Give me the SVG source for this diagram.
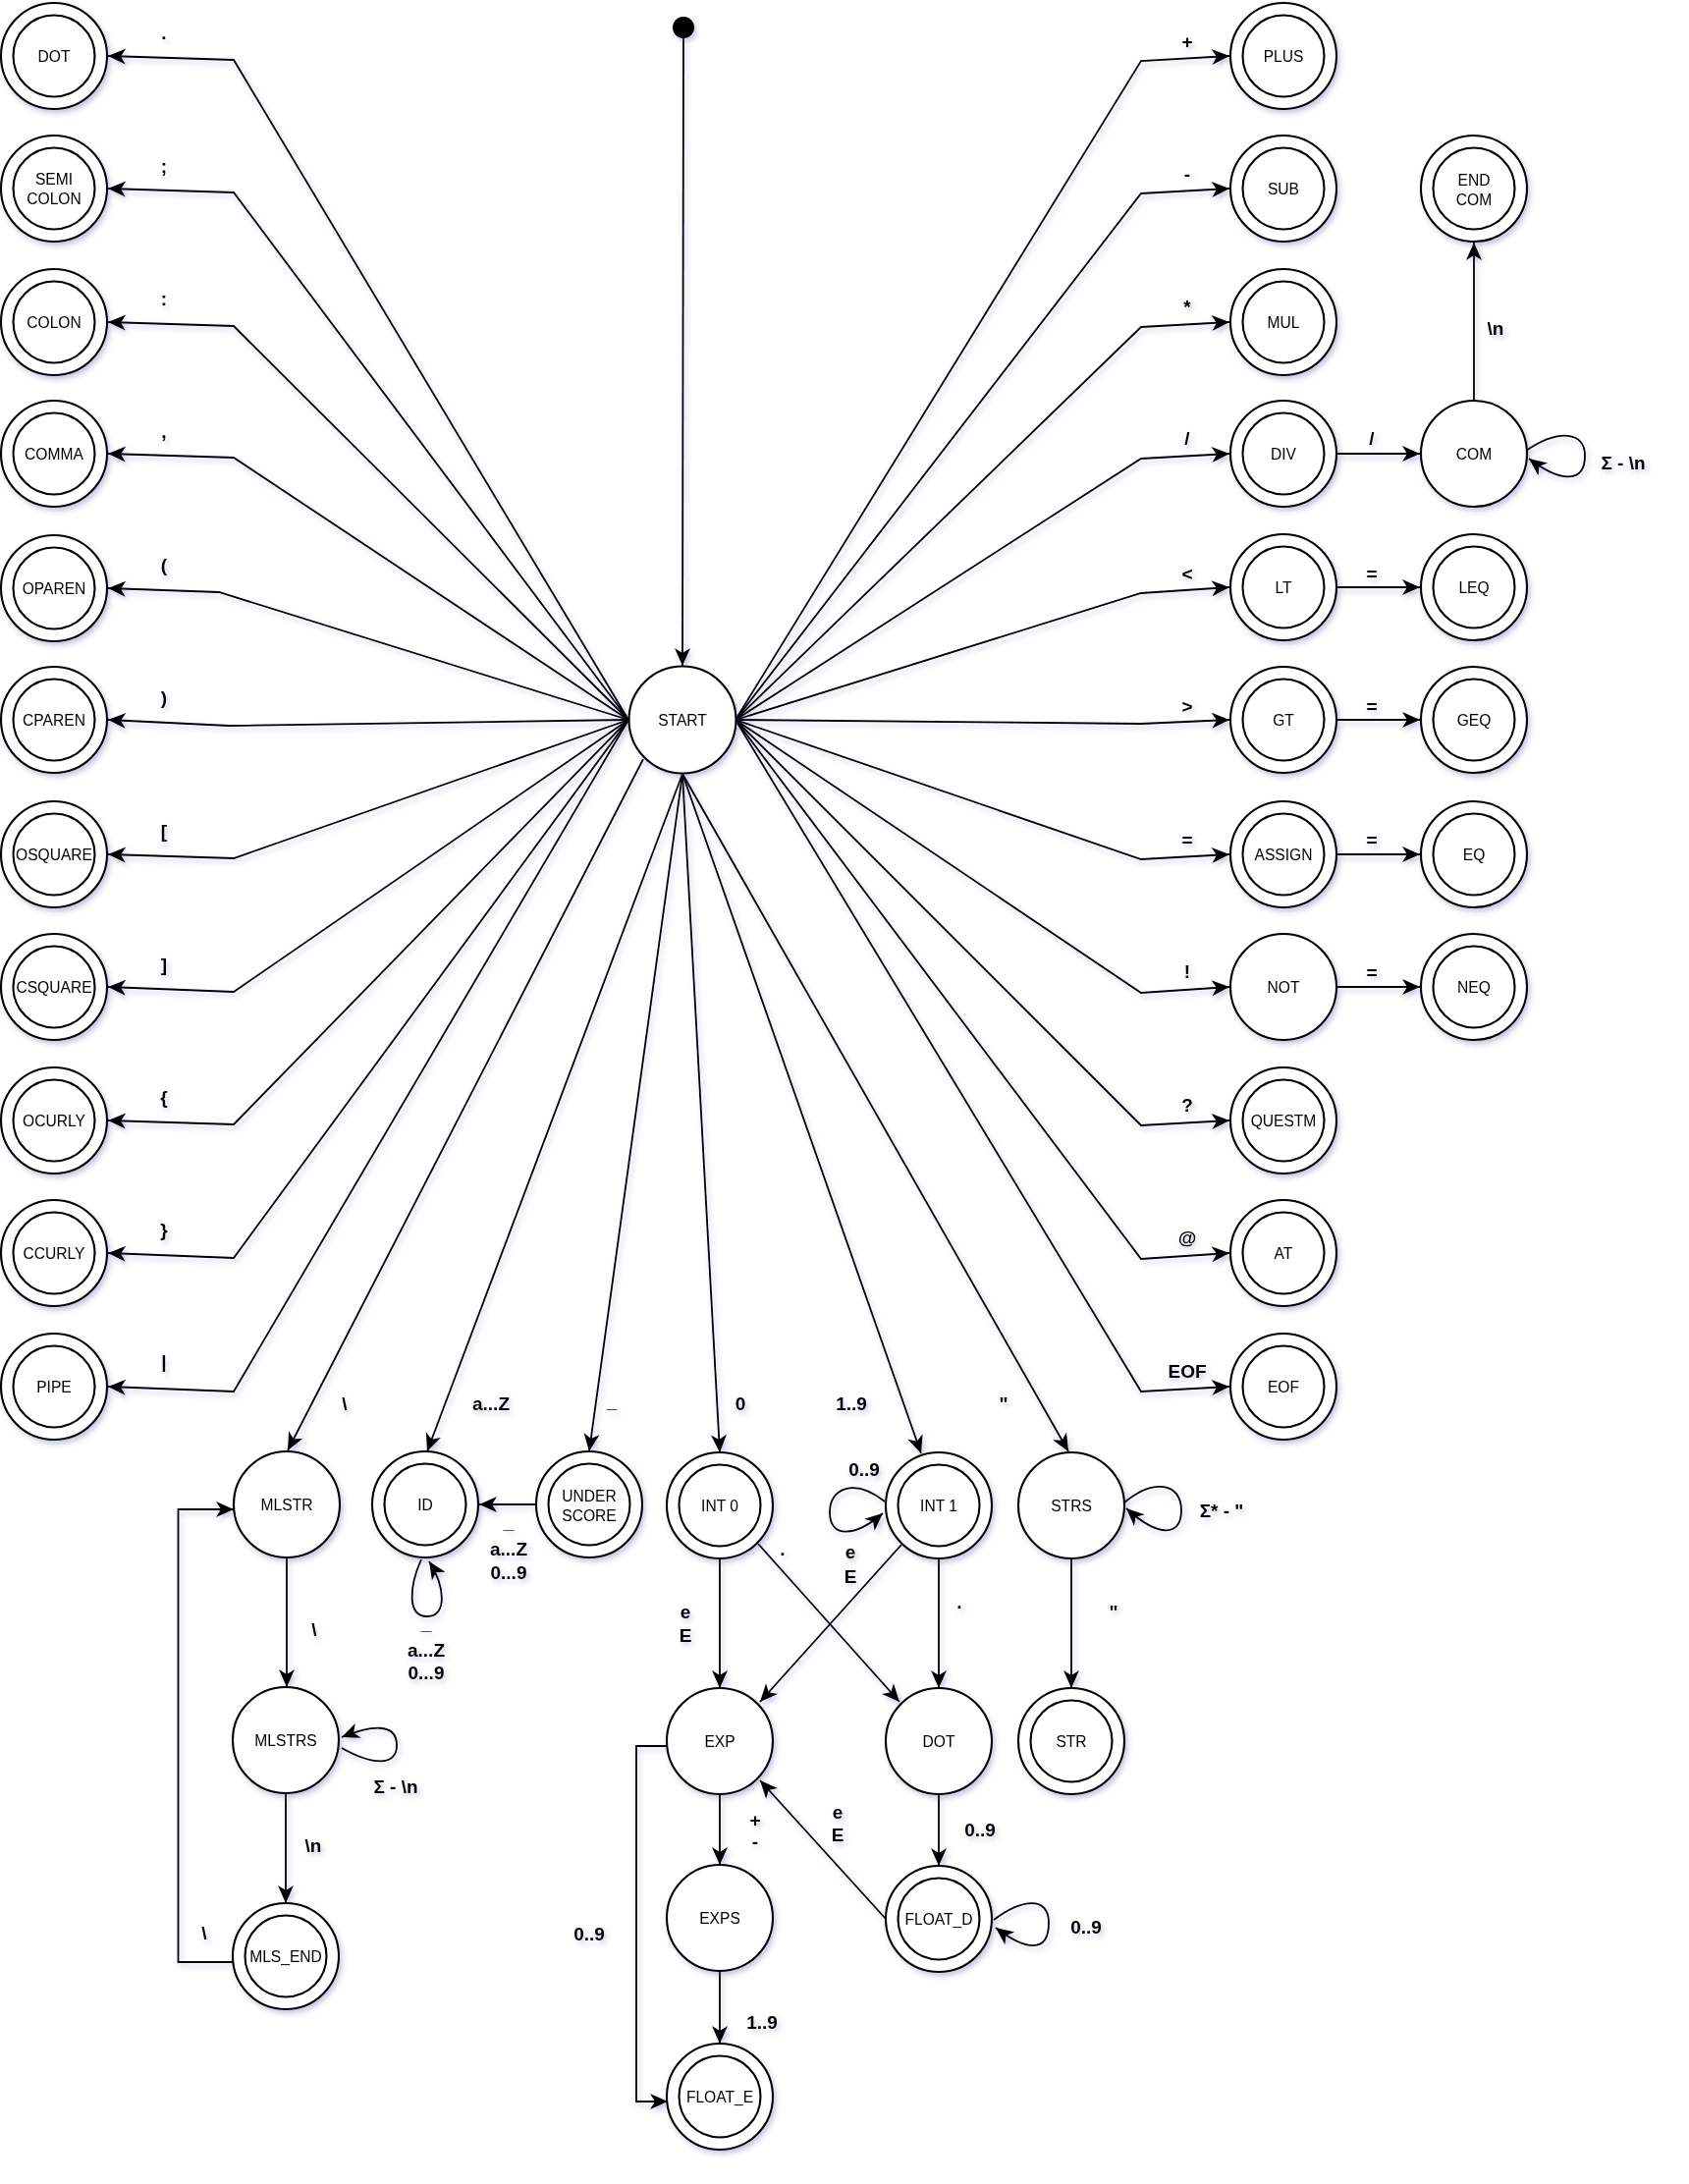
<svg xmlns="http://www.w3.org/2000/svg" width="1720" height="2224" viewBox="0 0 1720 2224">
<defs>
<filter id="sh" x="-20%" y="-20%" width="140%" height="140%">
<feDropShadow dx="2.5" dy="3.5" stdDeviation="2.5" flood-color="#3a3f8f" flood-opacity="0.28"/>
</filter>
<marker id="arr" viewBox="-19 -9 21 18" refX="0" refY="0" markerWidth="21" markerHeight="18" orient="auto" markerUnits="userSpaceOnUse">
<path d="M0,0 L-18,-8 L-13,0 L-18,8 Z" fill="#000"/>
</marker>
</defs>
<style>
.node { filter: url(#sh); }
.node circle { fill: #fff; stroke: #000; stroke-width: 2.1; }
.node circle.dot { fill: #000; stroke: none; }
.lbl { font-family: "Liberation Sans", Arial, sans-serif; font-size: 15.6px; text-anchor: middle; fill: #000; }
.el { font-family: "Liberation Sans", Arial, sans-serif; font-size: 19px; font-weight: bold; text-anchor: middle; fill: #000; }
.edges path { fill: none; stroke: #000; stroke-width: 1.8; marker-end: url(#arr); }
.elabels { filter: url(#sh); }
</style>
<rect width="1720" height="2224" fill="#fff"/>

<g id="connectors" class="edges" filter="url(#sh)">
<path d="M696,39 L695,678"/>
<path d="M640,733 L238,61 L110,57"/>
<path d="M640,733 L238,196 L110,192"/>
<path d="M640,733 L238,332 L110,328"/>
<path d="M640,733 L238,466 L110,462"/>
<path d="M640,733 L223,603 L110,599"/>
<path d="M640,733 L233,739 L110,733"/>
<path d="M640,733 L238,874 L110,870"/>
<path d="M640,733 L238,1010 L110,1005"/>
<path d="M640,733 L238,1145 L110,1141"/>
<path d="M640,733 L238,1281 L110,1276"/>
<path d="M640,733 L238,1417 L110,1412"/>
<path d="M749,733 L1162,62 L1252,57"/>
<path d="M749,733 L1162,197 L1252,192"/>
<path d="M749,733 L1162,333 L1252,328"/>
<path d="M749,733 L1162,467 L1252,462"/>
<path d="M749,733 L1162,604 L1252,598"/>
<path d="M749,733 L1162,737 L1252,733"/>
<path d="M749,733 L1162,875 L1252,870"/>
<path d="M749,733 L1162,1011 L1252,1005"/>
<path d="M749,733 L1162,1146 L1252,1141"/>
<path d="M749,733 L1162,1282 L1252,1276"/>
<path d="M749,733 L1162,1417 L1252,1412"/>
<path d="M1361,462 L1446,462"/>
<path d="M1501,408 L1501,247"/>
<path d="M1554,459 C1588,436 1614,440 1614,464 C1614,492 1590,492 1557,467"/>
<path d="M1361,598 L1446,598"/>
<path d="M1361,733 L1446,733"/>
<path d="M1361,870 L1446,870"/>
<path d="M1361,1005 L1446,1005"/>
<path d="M655,773 L293,1477"/>
<path d="M695,788 L435,1478"/>
<path d="M695,788 L600,1478"/>
<path d="M695,788 L733,1479"/>
<path d="M695,788 L938,1480"/>
<path d="M695,788 L1088,1478"/>
<path d="M292,1586 L292,1718"/>
<path d="M348,1780 C378,1797 405,1800 404,1776 C403,1754 378,1757 348,1769"/>
<path d="M291,1826 L291,1938"/>
<path d="M237,1998 L181.5,1998 L181.5,1537 L238,1537"/>
<path d="M546,1532 L488,1532"/>
<path d="M429,1588 C417,1615 414,1646 435,1646 C456,1646 453,1615 437,1590"/>
<path d="M733,1587 L733,1719"/>
<path d="M772,1572 L916,1733"/>
<path d="M918,1573 L774,1733"/>
<path d="M956,1587 L956,1719"/>
<path d="M901,1529 C870,1505 845,1515 845,1540 C845,1566 870,1566 899,1541"/>
<path d="M733,1827 L733,1899"/>
<path d="M956,1827 L956,1900"/>
<path d="M902,1954 L774,1813"/>
<path d="M1012,1955 C1040,1934 1068,1930 1068,1958 C1068,1990 1044,1986 1014,1963"/>
<path d="M733,2007 L733,2081"/>
<path d="M679,1778 L648,1778 L648,2140 L680,2140"/>
<path d="M1091,1587 L1091,1719"/>
<path d="M1145,1530 C1175,1505 1203,1510 1203,1538 C1203,1565 1180,1566 1147,1536"/>
</g>

<g id="edge-labels" class="elabels">
<text class="el" x="167" y="40">.</text>
<text class="el" x="167" y="176">;</text>
<text class="el" x="167" y="311">:</text>
<text class="el" x="167" y="446">,</text>
<text class="el" x="167" y="582">(</text>
<text class="el" x="167" y="717">)</text>
<text class="el" x="167" y="853">[</text>
<text class="el" x="167" y="989">]</text>
<text class="el" x="167" y="1124">{</text>
<text class="el" x="167" y="1259">}</text>
<text class="el" x="167" y="1393">|</text>

<text class="el" x="1209" y="49">+</text>
<text class="el" x="1209" y="184">-</text>
<text class="el" x="1209" y="319">*</text>
<text class="el" x="1209" y="453">/</text>
<text class="el" x="1209" y="591">&lt;</text>
<text class="el" x="1209" y="726">&gt;</text>
<text class="el" x="1209" y="862">=</text>
<text class="el" x="1209" y="996">!</text>
<text class="el" x="1209" y="1132">?</text>
<text class="el" x="1209" y="1267">@</text>
<text class="el" x="1209" y="1403">EOF</text>

<text class="el" x="1397" y="453">/</text>
<text class="el" x="1523" y="341">\n</text>
<text class="el" x="1653" y="478">Σ - \n</text>
<text class="el" x="1397" y="591">=</text>
<text class="el" x="1397" y="726">=</text>
<text class="el" x="1397" y="862">=</text>
<text class="el" x="1397" y="997">=</text>

<text class="el" x="351" y="1436">\</text>
<text class="el" x="500" y="1436">a...Z</text>
<text class="el" x="623" y="1434">_</text>
<text class="el" x="754" y="1436">0</text>
<text class="el" x="867" y="1436">1..9</text>
<text class="el" x="1022" y="1436">"</text>

<text class="el" x="518" y="1557">_</text>
<text class="el" x="518" y="1584">a...Z</text>
<text class="el" x="518" y="1608">0...9</text>
<text class="el" x="434" y="1660">_</text>
<text class="el" x="434" y="1687">a...Z</text>
<text class="el" x="434" y="1710">0...9</text>

<text class="el" x="320" y="1666">\</text>
<text class="el" x="403" y="1826">Σ - \n</text>
<text class="el" x="319" y="1886">\n</text>
<text class="el" x="208" y="1975">\</text>

<text class="el" x="698" y="1648">e</text>
<text class="el" x="698" y="1672">E</text>
<text class="el" x="797" y="1584">.</text>
<text class="el" x="866" y="1587">e</text>
<text class="el" x="866" y="1612">E</text>
<text class="el" x="880" y="1503">0..9</text>
<text class="el" x="977" y="1638">.</text>
<text class="el" x="1134" y="1648">"</text>
<text class="el" x="1244" y="1545">Σ* - "</text>

<text class="el" x="769" y="1860">+</text>
<text class="el" x="769" y="1882">-</text>
<text class="el" x="853" y="1852">e</text>
<text class="el" x="853" y="1875">E</text>
<text class="el" x="998" y="1870">0..9</text>
<text class="el" x="1106" y="1969">0..9</text>
<text class="el" x="776" y="2066">1..9</text>
<text class="el" x="600" y="1976">0..9</text>
</g>

<g id="n-init" class="node"><circle class="dot" cx="696" cy="28" r="11"/></g>
<g id="n-START" class="node"><circle cx="695" cy="733" r="54.5"/><text class="lbl" x="695" y="738.5">START</text></g>

<g id="n-DOT" class="node"><circle cx="55" cy="57" r="54"/><circle cx="55" cy="57" r="41.5"/><text class="lbl" x="55" y="62.5">DOT</text></g>
<g id="n-SEMICOLON" class="node"><circle cx="55" cy="192" r="54"/><circle cx="55" cy="192" r="41.5"/><text class="lbl" x="55" y="188">SEMI</text><text class="lbl" x="55" y="208">COLON</text></g>
<g id="n-COLON" class="node"><circle cx="55" cy="328" r="54"/><circle cx="55" cy="328" r="41.5"/><text class="lbl" x="55" y="333.5">COLON</text></g>
<g id="n-COMMA" class="node"><circle cx="55" cy="462" r="54"/><circle cx="55" cy="462" r="41.5"/><text class="lbl" x="55" y="467.5">COMMA</text></g>
<g id="n-OPAREN" class="node"><circle cx="55" cy="599" r="54"/><circle cx="55" cy="599" r="41.5"/><text class="lbl" x="55" y="604.5">OPAREN</text></g>
<g id="n-CPAREN" class="node"><circle cx="55" cy="733" r="54"/><circle cx="55" cy="733" r="41.5"/><text class="lbl" x="55" y="738.5">CPAREN</text></g>
<g id="n-OSQUARE" class="node"><circle cx="55" cy="870" r="54"/><circle cx="55" cy="870" r="41.5"/><text class="lbl" x="55" y="875.5">OSQUARE</text></g>
<g id="n-CSQUARE" class="node"><circle cx="55" cy="1005" r="54"/><circle cx="55" cy="1005" r="41.5"/><text class="lbl" x="55" y="1010.5">CSQUARE</text></g>
<g id="n-OCURLY" class="node"><circle cx="55" cy="1141" r="54"/><circle cx="55" cy="1141" r="41.5"/><text class="lbl" x="55" y="1146.5">OCURLY</text></g>
<g id="n-CCURLY" class="node"><circle cx="55" cy="1276" r="54"/><circle cx="55" cy="1276" r="41.5"/><text class="lbl" x="55" y="1281.5">CCURLY</text></g>
<g id="n-PIPE" class="node"><circle cx="55" cy="1412" r="54"/><circle cx="55" cy="1412" r="41.5"/><text class="lbl" x="55" y="1417.5">PIPE</text></g>

<g id="n-PLUS" class="node"><circle cx="1307" cy="57" r="54"/><circle cx="1307" cy="57" r="41.5"/><text class="lbl" x="1307" y="62.5">PLUS</text></g>
<g id="n-SUB" class="node"><circle cx="1307" cy="192" r="54"/><circle cx="1307" cy="192" r="41.5"/><text class="lbl" x="1307" y="197.5">SUB</text></g>
<g id="n-MUL" class="node"><circle cx="1307" cy="328" r="54"/><circle cx="1307" cy="328" r="41.5"/><text class="lbl" x="1307" y="333.5">MUL</text></g>
<g id="n-DIV" class="node"><circle cx="1307" cy="462" r="54"/><circle cx="1307" cy="462" r="41.5"/><text class="lbl" x="1307" y="467.5">DIV</text></g>
<g id="n-LT" class="node"><circle cx="1307" cy="598" r="54"/><circle cx="1307" cy="598" r="41.5"/><text class="lbl" x="1307" y="603.5">LT</text></g>
<g id="n-GT" class="node"><circle cx="1307" cy="733" r="54"/><circle cx="1307" cy="733" r="41.5"/><text class="lbl" x="1307" y="738.5">GT</text></g>
<g id="n-ASSIGN" class="node"><circle cx="1307" cy="870" r="54"/><circle cx="1307" cy="870" r="41.5"/><text class="lbl" x="1307" y="875.5">ASSIGN</text></g>
<g id="n-NOT" class="node"><circle cx="1307" cy="1005" r="54"/><text class="lbl" x="1307" y="1010.5">NOT</text></g>
<g id="n-QUESTM" class="node"><circle cx="1307" cy="1141" r="54"/><circle cx="1307" cy="1141" r="41.5"/><text class="lbl" x="1307" y="1146.5">QUESTM</text></g>
<g id="n-AT" class="node"><circle cx="1307" cy="1276" r="54"/><circle cx="1307" cy="1276" r="41.5"/><text class="lbl" x="1307" y="1281.5">AT</text></g>
<g id="n-EOF" class="node"><circle cx="1307" cy="1412" r="54"/><circle cx="1307" cy="1412" r="41.5"/><text class="lbl" x="1307" y="1417.5">EOF</text></g>

<g id="n-ENDCOM" class="node"><circle cx="1501" cy="192" r="54"/><circle cx="1501" cy="192" r="41.5"/><text class="lbl" x="1501" y="189">END</text><text class="lbl" x="1501" y="208.5">COM</text></g>
<g id="n-COM" class="node"><circle cx="1501" cy="462" r="54"/><text class="lbl" x="1501" y="467.5">COM</text></g>
<g id="n-LEQ" class="node"><circle cx="1501" cy="598" r="54"/><circle cx="1501" cy="598" r="41.5"/><text class="lbl" x="1501" y="603.5">LEQ</text></g>
<g id="n-GEQ" class="node"><circle cx="1501" cy="733" r="54"/><circle cx="1501" cy="733" r="41.5"/><text class="lbl" x="1501" y="738.5">GEQ</text></g>
<g id="n-EQ" class="node"><circle cx="1501" cy="870" r="54"/><circle cx="1501" cy="870" r="41.5"/><text class="lbl" x="1501" y="875.5">EQ</text></g>
<g id="n-NEQ" class="node"><circle cx="1501" cy="1005" r="54"/><circle cx="1501" cy="1005" r="41.5"/><text class="lbl" x="1501" y="1010.5">NEQ</text></g>

<g id="n-MLSTR" class="node"><circle cx="292" cy="1532" r="54"/><text class="lbl" x="292" y="1537.5">MLSTR</text></g>
<g id="n-ID" class="node"><circle cx="433" cy="1532" r="54"/><circle cx="433" cy="1532" r="41.5"/><text class="lbl" x="433" y="1537.5">ID</text></g>
<g id="n-UNDERSCORE" class="node"><circle cx="600" cy="1532" r="54"/><circle cx="600" cy="1532" r="41.5"/><text class="lbl" x="600" y="1529">UNDER</text><text class="lbl" x="600" y="1548.5">SCORE</text></g>
<g id="n-INT0" class="node"><circle cx="733" cy="1533" r="54"/><circle cx="733" cy="1533" r="41.5"/><text class="lbl" x="733" y="1538.5">INT 0</text></g>
<g id="n-INT1" class="node"><circle cx="956" cy="1533" r="54"/><circle cx="956" cy="1533" r="41.5"/><text class="lbl" x="956" y="1538.5">INT 1</text></g>
<g id="n-STRS" class="node"><circle cx="1091" cy="1533" r="54"/><text class="lbl" x="1091" y="1538.5">STRS</text></g>

<g id="n-MLSTRS" class="node"><circle cx="291" cy="1772" r="54"/><text class="lbl" x="291" y="1777.5">MLSTRS</text></g>
<g id="n-EXP" class="node"><circle cx="733" cy="1773" r="54"/><text class="lbl" x="733" y="1778.5">EXP</text></g>
<g id="n-DOTF" class="node"><circle cx="956" cy="1773" r="54"/><text class="lbl" x="956" y="1778.5">DOT</text></g>
<g id="n-STR" class="node"><circle cx="1091" cy="1773" r="54"/><circle cx="1091" cy="1773" r="41.5"/><text class="lbl" x="1091" y="1778.5">STR</text></g>

<g id="n-MLSEND" class="node"><circle cx="291" cy="1992" r="54"/><circle cx="291" cy="1992" r="41.5"/><text class="lbl" x="291" y="1997.5">MLS_END</text></g>
<g id="n-EXPS" class="node"><circle cx="733" cy="1953" r="54"/><text class="lbl" x="733" y="1958.5">EXPS</text></g>
<g id="n-FLOATD" class="node"><circle cx="956" cy="1954" r="54"/><circle cx="956" cy="1954" r="41.5"/><text class="lbl" x="956" y="1959.5">FLOAT_D</text></g>
<g id="n-FLOATE" class="node"><circle cx="733" cy="2135" r="54"/><circle cx="733" cy="2135" r="41.5"/><text class="lbl" x="733" y="2140.5">FLOAT_E</text></g>
</svg>
